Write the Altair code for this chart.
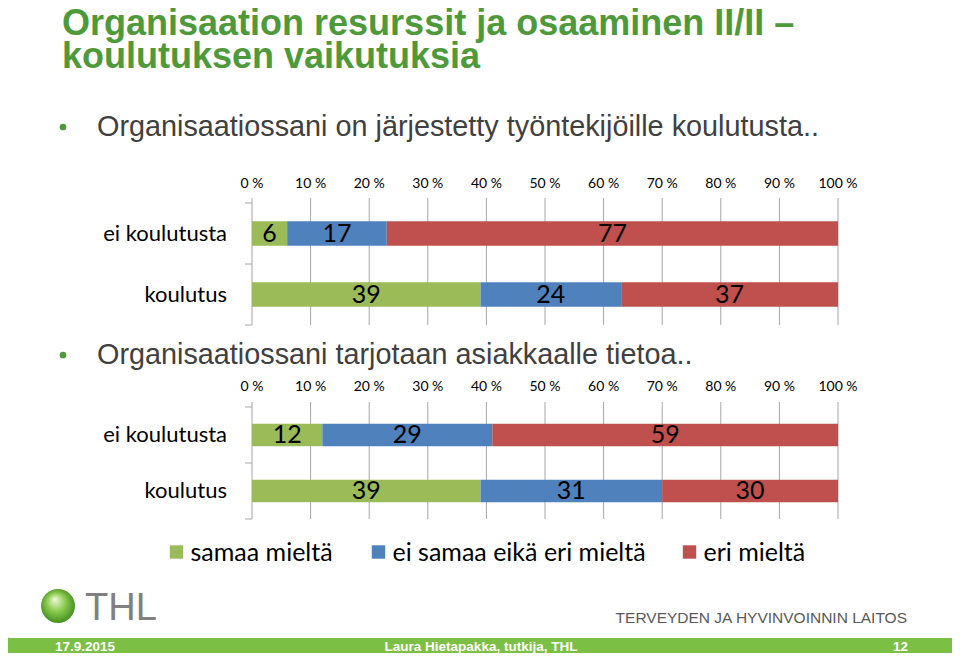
import altair as alt
import pandas as pd

W, H = 944, 645

# ---------------- data ----------------
categories = ["ei koulutusta", "koulutus"]
series = ["samaa mieltä", "ei samaa eikä eri mieltä", "eri mieltä"]
series_colors = ["#9BBB59", "#4F81BD", "#C0504D"]

q1_samaa = [6, 39]
q1_ei_samaa_eika_eri = [17, 24]
q1_eri = [77, 37]

q2_samaa = [12, 39]
q2_ei_samaa_eika_eri = [29, 31]
q2_eri = [59, 30]

tick_values = [0, 10, 20, 30, 40, 50, 60, 70, 80, 90, 100]
tick_labels = ["0 %", "10 %", "20 %", "30 %", "40 %", "50 %", "60 %", "70 %", "80 %", "90 %", "100 %"]

title_lines = ["Organisaation resurssit ja osaaminen II/II –", "koulutuksen vaikutuksia"]
questions = ["Organisaatiossani on järjestetty työntekijöille koulutusta..",
             "Organisaatiossani tarjotaan asiakkaalle tietoa.."]
logo_text = "THL"
org_name = "TERVEYDEN JA HYVINVOINNIN LAITOS"
footer_left = "17.9.2015"
footer_center = "Laura Hietapakka, tutkija, THL"
footer_right = "12"

# ---------------- layout / style ----------------
X0, X1 = 244, 830
GREEN = "#4E9A3A"
GRID = "#A6A6A6"
CAL = "Lato"
ARIAL = "Liberation Sans"

x_scale = alt.Scale(domain=[0, 100], range=[X0, X1], nice=False, zero=False)
color_scale = alt.Scale(domain=series, range=series_colors)


def one():
    return pd.DataFrame({"a": [0]})


def label(txt, x, y, **kw):
    return alt.Chart(pd.DataFrame({"t": [txt]})).mark_text(**kw).encode(
        x=alt.value(x), y=alt.value(y), text="t:N")


def panel(values, y_top, y_bot, label_y, grid_top):
    rows = []
    for ci, cat in enumerate(categories):
        cum = 0
        for si, s in enumerate(series):
            v = values[si][ci]
            rows.append(dict(cat=cat, series=s, order=si, value=v,
                             start=cum, end=cum + v, mid=cum + v / 2))
            cum += v
    df = pd.DataFrame(rows)
    y_scale = alt.Scale(domain=categories, range=[y_top, y_bot],
                        paddingInner=0.6, paddingOuter=0.3)
    ticks_df = pd.DataFrame({"t": tick_values, "lab": tick_labels})

    grid = alt.Chart(ticks_df).mark_rule(color=GRID, strokeWidth=1).encode(
        x=alt.X("t:Q", scale=x_scale, axis=None),
        y=alt.value(grid_top), y2=alt.value(y_bot))
    tlab = alt.Chart(ticks_df).mark_text(font=CAL, fontSize=14, color="#000000",
                                          baseline="middle").encode(
        x=alt.X("t:Q", scale=x_scale, axis=None),
        y=alt.value(label_y), text="lab:N")
    bars = alt.Chart(df).mark_bar().encode(
        x=alt.X("start:Q", scale=x_scale, axis=None),
        x2="end:Q",
        y=alt.Y("cat:N", scale=y_scale, axis=None),
        color=alt.Color("series:N", scale=color_scale, legend=None))
    vals = alt.Chart(df).mark_text(font=CAL, fontSize=25, color="#000000",
                                   baseline="middle").encode(
        x=alt.X("mid:Q", scale=x_scale, axis=None),
        y=alt.Y("cat:N", scale=y_scale, axis=None),
        text="value:Q")
    cats = alt.Chart(pd.DataFrame({"cat": categories})).mark_text(
        font=CAL, fontSize=22, color="#000000", align="right", baseline="middle").encode(
        x=alt.value(X0 - 25),
        y=alt.Y("cat:N", scale=y_scale, axis=None),
        text="cat:N")
    mid = (y_top + y_bot) / 2
    yticks = [alt.Chart(one()).mark_rule(color=GRID).encode(
        x=alt.value(X0 - 7), x2=alt.value(X0), y=alt.value(yy))
        for yy in (y_top, mid, y_bot)]
    return alt.layer(grid, *yticks, bars, vals, cats, tlab)


p1 = panel([q1_samaa, q1_ei_samaa_eika_eri, q1_eri], 195, 317, 176, 190)
p2 = panel([q2_samaa, q2_ei_samaa_eika_eri, q2_eri], 399, 511, 379, 394)

# ---------------- slide decorations ----------------
deco = []
# white edges (hide any frame around the view)
deco.append(alt.Chart(one()).mark_rect(color="#FFFFFF").encode(
    x=alt.value(W - 3), x2=alt.value(W), y=alt.value(0), y2=alt.value(629)))
deco.append(alt.Chart(one()).mark_rect(color="#FFFFFF").encode(
    x=alt.value(0), x2=alt.value(3), y=alt.value(0), y2=alt.value(629)))
deco.append(alt.Chart(one()).mark_rect(color="#FFFFFF").encode(
    x=alt.value(0), x2=alt.value(W), y=alt.value(0), y2=alt.value(2)))

title_style = dict(font=ARIAL, fontSize=36, fontWeight="bold", color=GREEN,
                   align="left", baseline="alphabetic")
deco.append(label(title_lines[0], 54, 27, **title_style))
deco.append(label(title_lines[1], 54, 60, **title_style))

for q, yy in zip(questions, (128, 356)):
    deco.append(alt.Chart(one()).mark_circle(size=45, color=GREEN, opacity=1).encode(
        x=alt.value(55), y=alt.value(yy - 9)))
    deco.append(label(q, 89, yy, font=ARIAL, fontSize=28.8, color="#404040",
                      align="left", baseline="alphabetic"))

# legend
leg_sq_x = [168.5, 370.5, 681.5]
for s, c, lx in zip(series, series_colors, leg_sq_x):
    deco.append(alt.Chart(one()).mark_square(size=180, color=c, opacity=1).encode(
        x=alt.value(lx), y=alt.value(544)))
    deco.append(label(s, lx + 14, 545, font=CAL, fontSize=25, color="#000000",
                      align="left", baseline="middle"))

# logo
sphere = alt.RadialGradient(
    gradient="radial",
    stops=[alt.GradientStop(color="#F0FBE0", offset=0),
           alt.GradientStop(color="#8CCB4E", offset=0.45),
           alt.GradientStop(color="#2F7F16", offset=1)],
    x1=0.4, y1=0.3, r1=0, x2=0.5, y2=0.5, r2=0.6)
deco.append(alt.Chart(one()).mark_circle(size=1150, fill=sphere, opacity=1).encode(
    x=alt.value(50), y=alt.value(598)))
deco.append(label(logo_text, 77, 612, font=ARIAL, fontSize=38,
                  color="#808080", align="left", baseline="alphabetic"))
deco.append(label(org_name, 899, 615, font=ARIAL, fontSize=15.5,
                  color="#595959", align="right", baseline="alphabetic"))

# footer band
deco.append(alt.Chart(one()).mark_rect(color="#7BBF44").encode(
    x=alt.value(0), x2=alt.value(W), y=alt.value(630), y2=alt.value(H)))
foot_style = dict(font=ARIAL, fontSize=13.5, fontWeight="bold",
                  color="#FFFFFF", baseline="alphabetic")
deco.append(label(footer_left, 47, 643, align="left", **foot_style))
deco.append(label(footer_center, 473, 643, align="center", **foot_style))
deco.append(label(footer_right, 900, 643, align="right", **foot_style))

chart = alt.layer(p1, p2, *deco).resolve_scale(y="independent").properties(
    width=W, height=H, padding=0,
    autosize=alt.AutoSizeParams(type="none"),
).configure_view(stroke="transparent", strokeOpacity=0).configure(background="#FFFFFF")

chart.save("out.html", embed_options={"renderer": "svg", "actions": False})
